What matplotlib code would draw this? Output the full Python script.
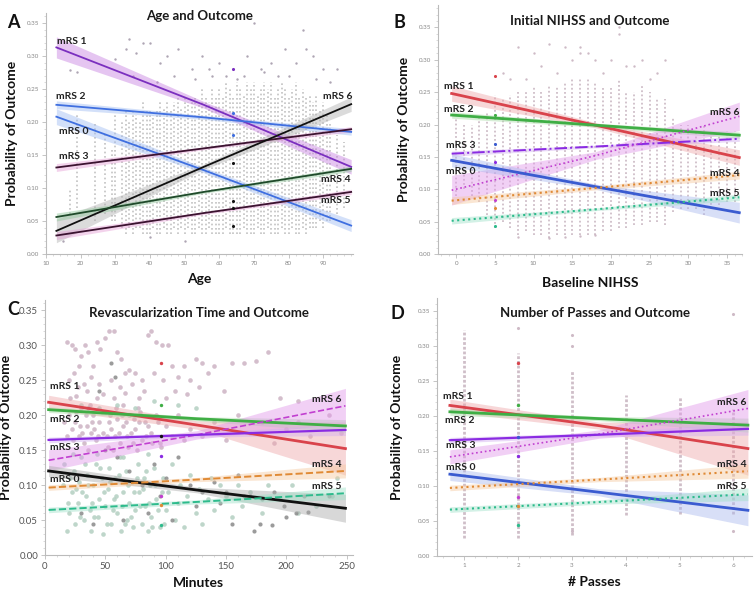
import numpy as np
import matplotlib
matplotlib.use("Agg")
from matplotlib import pyplot as plt

# ---------------- data ----------------
labels = ["mRS 0", "mRS 1", "mRS 2", "mRS 3", "mRS 4", "mRS 5", "mRS 6"]

# Panel A: Age
a_x = [13, 55.5, 98]
a_mrs0 = [0.208, 0.127, 0.043]
a_mrs1 = [0.313, 0.226, 0.132]
a_mrs2 = [0.226, 0.207, 0.185]
a_mrs3 = [0.131, 0.160, 0.189]
a_mrs4 = [0.056, 0.094, 0.129]
a_mrs5 = [0.028, 0.062, 0.094]
a_mrs6 = [0.035, 0.132, 0.227]
a_ci0 = [0.012, 0.004, 0.009]
a_ci1 = [0.016, 0.005, 0.011]
a_ci2 = [0.006, 0.003, 0.005]
a_ci3 = [0.006, 0.002, 0.004]
a_ci4 = [0.006, 0.002, 0.004]
a_ci5 = [0.006, 0.002, 0.004]
a_ci6 = [0.018, 0.004, 0.011]

a_col_x = [17, 19, 24, 27, 29, 30, 32, 33, 34, 35, 36, 37, 38, 39, 40, 41, 42, 43, 44,
           45, 46, 47, 48, 49, 50, 51, 52, 53, 54, 55, 56, 57, 58, 59, 60, 61, 62, 63,
           64, 65, 66, 67, 68, 69, 70, 71, 72, 73, 74, 75, 76, 77, 78, 79, 80, 81, 82,
           83, 84, 85, 86, 87, 88, 89, 90, 91, 92, 94, 96]
a_col_lo = [0.06, 0.07, 0.05, 0.06, 0.05, 0.05, 0.04, 0.03, 0.04, 0.03, 0.04, 0.04, 0.03,
            0.03, 0.03, 0.04, 0.03, 0.03, 0.04, 0.03, 0.03, 0.04, 0.03, 0.04, 0.03, 0.04,
            0.03, 0.03, 0.04, 0.03, 0.03, 0.04, 0.03, 0.03, 0.03, 0.03, 0.04, 0.03, 0.03,
            0.03, 0.03, 0.04, 0.03, 0.03, 0.03, 0.04, 0.03, 0.03, 0.04, 0.03, 0.03, 0.03,
            0.04, 0.03, 0.03, 0.04, 0.03, 0.03, 0.04, 0.03, 0.04, 0.04, 0.04, 0.05, 0.04,
            0.05, 0.05, 0.06, 0.07]
a_col_hi = [0.10, 0.21, 0.20, 0.18, 0.16, 0.21, 0.20, 0.22, 0.20, 0.22, 0.21, 0.20, 0.23,
            0.22, 0.22, 0.21, 0.22, 0.23, 0.22, 0.23, 0.22, 0.23, 0.24, 0.22, 0.24, 0.23,
            0.23, 0.24, 0.23, 0.25, 0.24, 0.23, 0.25, 0.24, 0.25, 0.24, 0.26, 0.25, 0.24,
            0.26, 0.25, 0.24, 0.26, 0.25, 0.26, 0.24, 0.25, 0.26, 0.25, 0.26, 0.24, 0.25,
            0.26, 0.25, 0.24, 0.25, 0.26, 0.24, 0.25, 0.24, 0.24, 0.23, 0.24, 0.22, 0.23,
            0.21, 0.20, 0.18, 0.17]
a_out = [(17, 0.278), (19, 0.275), (30, 0.295), (33, 0.31), (34, 0.325), (36, 0.305),
         (38, 0.32), (40, 0.32), (43, 0.29), (45, 0.30), (48, 0.31), (52, 0.28),
         (55, 0.30), (57, 0.28), (60, 0.29), (62, 0.27), (67, 0.27), (68, 0.30),
         (70, 0.35), (72, 0.28), (75, 0.29), (77, 0.27), (79, 0.31), (82, 0.29),
         (84, 0.34), (85, 0.31), (87, 0.30), (90, 0.28), (94, 0.28), (35, 0.27),
         (42, 0.26), (47, 0.27), (53, 0.265), (58, 0.27), (65, 0.265), (73, 0.275),
         (80, 0.27), (88, 0.265), (92, 0.26), (15, 0.02), (40, 0.025), (50, 0.02)]
a_hi_pts = [(64, 0.280, "#7b2fbf"), (64, 0.213, "#3f6fe0"), (64, 0.180, "#3f6fe0"),
            (64, 0.138, "#111111"), (64, 0.080, "#111111"), (64, 0.069, "#111111"),
            (64, 0.042, "#111111")]

# Panel B: Baseline NIHSS
b_x = [-0.6, 18, 36.6]
b_mrs0 = [0.1447, 0.104, 0.0638]
b_mrs1 = [0.248, 0.199, 0.149]
b_mrs2 = [0.2147, 0.199, 0.1836]
b_mrs3 = [0.155, 0.166, 0.178]
b_mrs4 = [0.0824, 0.102, 0.1218]
b_mrs5 = [0.0513, 0.069, 0.0876]
b_mrs6 = [0.0985, 0.152, 0.2127]
b_ci0 = [0.010, 0.004, 0.016]
b_ci1 = [0.012, 0.004, 0.012]
b_ci2 = [0.005, 0.003, 0.005]
b_ci3 = [0.004, 0.002, 0.004]
b_ci4 = [0.006, 0.003, 0.006]
b_ci5 = [0.005, 0.002, 0.005]
b_ci6 = [0.023, 0.006, 0.022]

b_col_x = list(range(0, 37))
b_col_lo = [0.09, 0.10, 0.09, 0.08, 0.06, 0.04, 0.05, 0.04, 0.03, 0.035, 0.03, 0.03,
            0.025, 0.03, 0.03, 0.03, 0.03, 0.03, 0.03, 0.035, 0.035, 0.04, 0.04, 0.045,
            0.045, 0.05, 0.05, 0.045, 0.065, 0.07, 0.07, 0.07, 0.06, 0.07, 0.075, 0.08, 0.08]
b_col_hi = [0.21, 0.20, 0.20, 0.21, 0.22, 0.245, 0.24, 0.245, 0.25, 0.25, 0.26, 0.25,
            0.26, 0.26, 0.265, 0.27, 0.27, 0.27, 0.265, 0.26, 0.26, 0.27, 0.25, 0.25,
            0.26, 0.25, 0.24, 0.24, 0.21, 0.20, 0.20, 0.19, 0.20, 0.19, 0.19, 0.19, 0.19]
b_out = [(8, 0.32), (10, 0.31), (11, 0.29), (12, 0.325), (13, 0.28), (14, 0.32),
         (15, 0.30), (16, 0.32), (16, 0.31), (17, 0.31), (18, 0.30), (19, 0.28),
         (20, 0.30), (21, 0.35), (21, 0.34), (22, 0.29), (23, 0.29), (24, 0.30),
         (25, 0.27), (26, 0.28), (27, 0.30), (6, 0.28), (7, 0.27), (9, 0.27),
         (8, 0.027), (12, 0.024), (14, 0.026), (16, 0.028), (18, 0.03)]
b_hi_pts = [(5, 0.275, "#d9434b"), (5, 0.215, "#3fae45"), (5, 0.170, "#3a5bd0"),
            (5, 0.142, "#8a2be2"), (5, 0.084, "#c13fd0"), (5, 0.071, "#e08a35"),
            (5, 0.043, "#2dbb8c")]

# Panel C: Revascularization time (minutes)
c_x = [3, 126, 249]
c_mrs0 = [0.1203, 0.093, 0.0669]
c_mrs1 = [0.2186, 0.186, 0.1523]
c_mrs2 = [0.208, 0.195, 0.1847]
c_mrs3 = [0.1647, 0.172, 0.179]
c_mrs4 = [0.0965, 0.108, 0.1203]
c_mrs5 = [0.0645, 0.076, 0.0884]
c_mrs6 = [0.1356, 0.172, 0.2135]
c_ci0 = [0.008, 0.004, 0.020]
c_ci1 = [0.010, 0.006, 0.038]
c_ci2 = [0.004, 0.003, 0.009]
c_ci3 = [0.004, 0.003, 0.008]
c_ci4 = [0.004, 0.003, 0.010]
c_ci5 = [0.004, 0.003, 0.009]
c_ci6 = [0.015, 0.006, 0.025]

c_pink = [(18, 0.305), (22, 0.30), (25, 0.295), (28, 0.27), (30, 0.285), (33, 0.30),
          (36, 0.29), (40, 0.27), (43, 0.305), (46, 0.295), (50, 0.31), (53, 0.32),
          (57, 0.32), (60, 0.29), (63, 0.28), (66, 0.26), (70, 0.265), (75, 0.26),
          (80, 0.25), (85, 0.315), (88, 0.32), (92, 0.305), (97, 0.30), (102, 0.30),
          (105, 0.27), (110, 0.255), (115, 0.27), (120, 0.25), (125, 0.28), (130, 0.275),
          (135, 0.26), (140, 0.27), (148, 0.235), (155, 0.275), (165, 0.275), (175, 0.278),
          (185, 0.29), (195, 0.225), (210, 0.22), (20, 0.25), (24, 0.26), (32, 0.245),
          (38, 0.255), (45, 0.245), (55, 0.25), (62, 0.24), (72, 0.245), (82, 0.235),
          (90, 0.26), (98, 0.25), (108, 0.235), (118, 0.23), (128, 0.24), (26, 0.228),
          (48, 0.23), (66, 0.232), (78, 0.225), (100, 0.225),
          (20, 0.20), (22, 0.18), (25, 0.19), (28, 0.17), (30, 0.21), (32, 0.16),
          (35, 0.185), (38, 0.175), (40, 0.20), (42, 0.165), (45, 0.19), (48, 0.175),
          (50, 0.205), (52, 0.155), (55, 0.18), (58, 0.17), (60, 0.195), (62, 0.16),
          (65, 0.185), (68, 0.17), (70, 0.20), (73, 0.16), (75, 0.18), (78, 0.19),
          (80, 0.165), (85, 0.185), (88, 0.175), (92, 0.20), (95, 0.16), (100, 0.185),
          (105, 0.17), (110, 0.20), (115, 0.165), (120, 0.18), (130, 0.17), (140, 0.19),
          (150, 0.165), (160, 0.20), (170, 0.175), (180, 0.19), (190, 0.16), (200, 0.18),
          (210, 0.19), (220, 0.17), (235, 0.20), (245, 0.175), (18, 0.17), (26, 0.205),
          (34, 0.20), (44, 0.17), (54, 0.20), (64, 0.20), (74, 0.195), (84, 0.17),
          (94, 0.19), (16, 0.19), (36, 0.15), (56, 0.15), (76, 0.15), (96, 0.155),
          (21, 0.225), (29, 0.185), (37, 0.215), (41, 0.18), (47, 0.205), (51, 0.17),
          (59, 0.21), (67, 0.19), (71, 0.175), (79, 0.205), (83, 0.19), (89, 0.16),
          (23, 0.165), (31, 0.175), (39, 0.19), (53, 0.19), (61, 0.175), (69, 0.155),
          (27, 0.24), (35, 0.235), (43, 0.225), (57, 0.225), (65, 0.215), (77, 0.21)]
c_mint = [(18, 0.035), (20, 0.06), (22, 0.09), (24, 0.12), (25, 0.045), (27, 0.075),
          (28, 0.105), (30, 0.14), (32, 0.05), (34, 0.085), (35, 0.115), (37, 0.065),
          (38, 0.035), (40, 0.10), (42, 0.13), (44, 0.055), (45, 0.08), (47, 0.11),
          (48, 0.03), (50, 0.07), (52, 0.095), (53, 0.125), (55, 0.045), (57, 0.08),
          (58, 0.11), (60, 0.06), (62, 0.14), (63, 0.035), (65, 0.09), (67, 0.12),
          (68, 0.05), (70, 0.075), (72, 0.105), (73, 0.04), (75, 0.065), (77, 0.13),
          (78, 0.09), (80, 0.045), (82, 0.11), (83, 0.07), (85, 0.035), (87, 0.10),
          (88, 0.055), (90, 0.125), (92, 0.08), (95, 0.04), (98, 0.11), (100, 0.065),
          (102, 0.09), (105, 0.13), (108, 0.05), (110, 0.075), (112, 0.10), (115, 0.04),
          (118, 0.085), (120, 0.115), (125, 0.06), (128, 0.095), (130, 0.045), (135, 0.08),
          (138, 0.11), (140, 0.065), (145, 0.10), (150, 0.085), (155, 0.055), (160, 0.10),
          (163, 0.07), (170, 0.09), (180, 0.06), (185, 0.10), (195, 0.08), (205, 0.10),
          (210, 0.06), (225, 0.07), (238, 0.085), (242, 0.11), (15, 0.10), (16, 0.13),
          (23, 0.145), (33, 0.13), (43, 0.145), (65, 0.14), (85, 0.145), (30, 0.215),
          (45, 0.21), (60, 0.215), (75, 0.21), (90, 0.22), (110, 0.215), (125, 0.21),
          (19, 0.075), (21, 0.11), (26, 0.095), (29, 0.055), (31, 0.09), (36, 0.10),
          (39, 0.075), (41, 0.055), (46, 0.125), (49, 0.09), (51, 0.045), (54, 0.105),
          (56, 0.065), (59, 0.085), (61, 0.115), (64, 0.07), (66, 0.045), (69, 0.1),
          (71, 0.055), (74, 0.09), (76, 0.11), (79, 0.07), (81, 0.095), (84, 0.12),
          (86, 0.075), (89, 0.04), (91, 0.1), (94, 0.065), (97, 0.09), (99, 0.045)]
c_dark = [(45, 0.235), (55, 0.275), (58, 0.255), (36, 0.21), (50, 0.15), (60, 0.14),
          (70, 0.12), (80, 0.10), (90, 0.13), (100, 0.11), (110, 0.14), (120, 0.10),
          (130, 0.09), (145, 0.075), (155, 0.045), (165, 0.085), (173, 0.035), (178, 0.045),
          (188, 0.043), (198, 0.07), (208, 0.06), (218, 0.062), (235, 0.085), (40, 0.045),
          (30, 0.06), (65, 0.05), (85, 0.06), (95, 0.085), (105, 0.05), (125, 0.07),
          (140, 0.105), (150, 0.09), (160, 0.115), (170, 0.085), (180, 0.08), (190, 0.09),
          (200, 0.055), (215, 0.085)]
c_hi_pts = [(96, 0.275, "#d9434b"), (96, 0.215, "#3fae45"), (96, 0.170, "#111111"),
            (96, 0.142, "#8a2be2"), (96, 0.084, "#c13fd0"), (96, 0.071, "#e08a35"),
            (96, 0.043, "#2dbb8c")]

# Panel D: number of passes
d_x = [0.73, 3.5, 6.27]
d_mrs0 = [0.1167, 0.091, 0.0652]
d_mrs1 = [0.2148, 0.186, 0.1533]
d_mrs2 = [0.2057, 0.196, 0.1867]
d_mrs3 = [0.1652, 0.173, 0.1814]
d_mrs4 = [0.0971, 0.109, 0.121]
d_mrs5 = [0.0662, 0.077, 0.0881]
d_mrs6 = [0.1414, 0.174, 0.2105]
d_ci0 = [0.009, 0.005, 0.022]
d_ci1 = [0.009, 0.005, 0.038]
d_ci2 = [0.005, 0.003, 0.010]
d_ci3 = [0.004, 0.003, 0.009]
d_ci4 = [0.004, 0.003, 0.010]
d_ci5 = [0.004, 0.003, 0.009]
d_ci6 = [0.010, 0.006, 0.027]

d_col_x = [1, 2, 3, 4, 5, 6]
d_col_lo = [0.025, 0.025, 0.03, 0.058, 0.06, 0.06]
d_col_hi = [0.322, 0.29, 0.265, 0.23, 0.228, 0.21]
d_out = [(2, 0.325), (3, 0.30), (3, 0.315), (6, 0.345), (6, 0.035), (3, 0.035)]
d_hi_pts = [(2, 0.275, "#d9434b"), (2, 0.215, "#3fae45"), (2, 0.170, "#3a5bd0"),
            (2, 0.142, "#8a2be2"), (2, 0.084, "#c13fd0"), (2, 0.071, "#e08a35"),
            (2, 0.044, "#2dbb8c")]

# ---------------- drawing ----------------
plt.rcParams['font.family'] = ['Lato', 'DejaVu Sans']

fig = plt.figure(figsize=(7.56, 5.89), dpi=100)
axA = fig.add_axes([0.0608, 0.5688, 0.406, 0.409])
axB = fig.add_axes([0.579, 0.5688, 0.403, 0.423])
axC = fig.add_axes([0.0595, 0.0577, 0.407, 0.433])
axD = fig.add_axes([0.578, 0.056, 0.417, 0.438])


def style_axes(ax, xlim, ylim, xticks, tick_size, tick_color):
    ax.set_xlim(*xlim)
    ax.set_ylim(*ylim)
    ax.set_xticks(xticks)
    ax.set_yticks(np.arange(0, 0.351, 0.05))
    ax.set_yticklabels(["%.2f" % v for v in np.arange(0, 0.351, 0.05)])
    for s in ['top', 'right']:
        ax.spines[s].set_visible(False)
    for s in ['left', 'bottom']:
        ax.spines[s].set_color('#bbbbbb')
        ax.spines[s].set_linewidth(0.8)
    ax.tick_params(labelsize=tick_size, colors='#bbbbbb', labelcolor=tick_color,
                   length=3, width=0.6, pad=2)
    ax.minorticks_on()
    ax.tick_params(which='minor', length=1.5, width=0.5, colors='#cccccc')


def fit(ax, x, y, ci, color, band, ls='-', lw=1.3, band_alpha=0.45):
    y = np.array(y)
    ci = np.array(ci)
    ax.fill_between(x, y - ci, y + ci, color=band, alpha=band_alpha, lw=0, zorder=3)
    ax.plot(x, y, color=color, ls=ls, lw=lw, zorder=4)


def pts(lst):
    arr = np.array(lst)
    return arr[:, 0], arr[:, 1]


lab_kw = dict(fontsize=7.5, fontweight='bold', color='#222222', zorder=6)
title_kw = dict(fontsize=9.5, fontweight='bold', color='#1a1a1a', ha='center', va='center')
axlab_kw = dict(fontsize=10, fontweight='bold', color='#111111')

# ---- A ----
ax = axA
style_axes(ax, (10, 98.5), (0, 0.365), np.arange(10, 91, 10), 4.5, '#888888')
ax.vlines(a_col_x, a_col_lo, a_col_hi, colors='#9a9a9a', linestyles=(0, (1, 1.6)),
          lw=1.2, alpha=0.6, zorder=1)
ox, oy = pts(a_out)
ax.scatter(ox, oy, s=3, color='#9a8fa0', alpha=0.8, lw=0, zorder=2)
for x, y, c in a_hi_pts:
    ax.scatter([x], [y], s=5, color=c, lw=0, zorder=5)
fit(ax, a_x, a_mrs1, a_ci1, '#7b2fbf', '#c77fe0')
fit(ax, a_x, a_mrs2, a_ci2, '#3f6fe0', '#9fbcf2')
fit(ax, a_x, a_mrs0, a_ci0, '#3f6fe0', '#9fbcf2')
fit(ax, a_x, a_mrs3, a_ci3, '#3b1330', '#e69fd6')
fit(ax, a_x, a_mrs6, a_ci6, '#111111', '#b0b0b0')
fit(ax, a_x, a_mrs4, a_ci4, '#1f4a2a', '#8fc79a')
fit(ax, a_x, a_mrs5, a_ci5, '#3b1330', '#e69fd6')
ax.text(13.3, 0.322, labels[1], ha='left', va='center', **lab_kw)
ax.text(13.0, 0.238, labels[2], ha='left', va='center', **lab_kw)
ax.text(13.9, 0.186, labels[0], ha='left', va='center', **lab_kw)
ax.text(13.9, 0.148, labels[3], ha='left', va='center', **lab_kw)
ax.text(98.3, 0.238, labels[6], ha='right', va='center', **lab_kw)
ax.text(97.7, 0.1136, labels[4], ha='right', va='center', **lab_kw)
ax.text(97.7, 0.081, labels[5], ha='right', va='center', **lab_kw)
ax.text(0.5, 0.987, "Age and Outcome", transform=ax.transAxes, **title_kw)
ax.set_xlabel("Age", **axlab_kw)
ax.set_ylabel("Probability of Outcome", **axlab_kw)
ax.xaxis.set_label_coords(0.5, -0.079)
ax.yaxis.set_label_coords(-0.091, 0.5)

# ---- B ----
ax = axB
style_axes(ax, (-2.4, 37), (0, 0.385), np.arange(0, 36, 5), 4.5, '#888888')
ax.vlines(b_col_x, b_col_lo, b_col_hi, colors='#c7b3bf', linestyles=(0, (1, 1.3)),
          lw=1.3, alpha=0.85, zorder=1)
ox, oy = pts(b_out)
ax.scatter(ox, oy, s=3, color='#c9b3c0', alpha=0.9, lw=0, zorder=2)
for x, y, c in b_hi_pts:
    ax.scatter([x], [y], s=5, color=c, lw=0, zorder=5)
fit(ax, b_x, b_mrs1, b_ci1, '#d9434b', '#eea7aa', lw=2)
fit(ax, b_x, b_mrs2, b_ci2, '#3fae45', '#a8dba5', lw=2)
fit(ax, b_x, b_mrs3, b_ci3, '#8a2be2', '#d2aef0', ls='-.', lw=1.4)
fit(ax, b_x, b_mrs6, b_ci6, '#c13fd0', '#e197ea', ls=':', lw=1.2)
fit(ax, b_x, b_mrs0, b_ci0, '#3a5bd0', '#a9b8ee', lw=2)
fit(ax, b_x, b_mrs4, b_ci4, '#e08a35', '#f5c99f', ls=':', lw=1.5)
fit(ax, b_x, b_mrs5, b_ci5, '#2dbb8c', '#9fe0c8', ls=':', lw=1.5)
ax.text(-1.55, 0.259, labels[1], ha='left', va='center', **lab_kw)
ax.text(-1.55, 0.224, labels[2], ha='left', va='center', **lab_kw)
ax.text(-1.3, 0.167, labels[3], ha='left', va='center', **lab_kw)
ax.text(-1.3, 0.128, labels[0], ha='left', va='center', **lab_kw)
ax.text(36.6, 0.219, labels[6], ha='right', va='center', **lab_kw)
ax.text(36.6, 0.1244, labels[4], ha='right', va='center', **lab_kw)
ax.text(36.6, 0.0933, labels[5], ha='right', va='center', **lab_kw)
ax.text(0.5, 0.936, "Initial NIHSS and Outcome", transform=ax.transAxes, **title_kw)
ax.set_xlabel("Baseline NIHSS", **axlab_kw)
ax.set_ylabel("Probability of Outcome", **axlab_kw)
ax.xaxis.set_label_coords(0.5, -0.092)
ax.yaxis.set_label_coords(-0.092, 0.5)

# ---- C ----
ax = axC
style_axes(ax, (0, 255), (0, 0.365), np.arange(0, 251, 50), 7, '#555555')
ox, oy = pts(c_pink)
ax.scatter(ox, oy, s=11, color='#cdb3c4', alpha=0.85, lw=0, zorder=1)
ox, oy = pts(c_mint)
ax.scatter(ox, oy, s=11, color='#b3cfc1', alpha=0.85, lw=0, zorder=1)
ox, oy = pts(c_dark)
ax.scatter(ox, oy, s=9, color='#8a8a8a', alpha=0.85, lw=0, zorder=1)
for x, y, c in c_hi_pts:
    ax.scatter([x], [y], s=6, color=c, lw=0, zorder=5)
fit(ax, c_x, c_mrs1, c_ci1, '#d9434b', '#eea7aa', lw=2)
fit(ax, c_x, c_mrs2, c_ci2, '#3fae45', '#a8dba5', lw=2)
fit(ax, c_x, c_mrs6, c_ci6, '#c13fd0', '#e197ea', ls='--', lw=1.2)
fit(ax, c_x, c_mrs3, c_ci3, '#8a2be2', '#d2aef0', lw=1.6)
fit(ax, c_x, c_mrs0, c_ci0, '#111111', '#a9a9a9', lw=2)
fit(ax, c_x, c_mrs4, c_ci4, '#e08a35', '#f5c99f', ls='--', lw=1.4)
fit(ax, c_x, c_mrs5, c_ci5, '#2dbb8c', '#9fe0c8', ls='--', lw=1.4)
ax.text(4.3, 0.241, labels[1], ha='left', va='center', **lab_kw)
ax.text(4.3, 0.194, labels[2], ha='left', va='center', **lab_kw)
ax.text(4.3, 0.154, labels[3], ha='left', va='center', **lab_kw)
ax.text(4.3, 0.108, labels[0], ha='left', va='center', **lab_kw)
ax.text(246, 0.222, labels[6], ha='right', va='center', **lab_kw)
ax.text(246, 0.129, labels[4], ha='right', va='center', **lab_kw)
ax.text(246, 0.098, labels[5], ha='right', va='center', **lab_kw)
ax.text(0.5, 0.949, "Revascularization Time and Outcome", transform=ax.transAxes, **title_kw)
ax.set_xlabel("Minutes", **axlab_kw)
ax.set_ylabel("Probability of Outcome", **axlab_kw)
ax.xaxis.set_label_coords(0.5, -0.085)
ax.yaxis.set_label_coords(-0.108, 0.5)

# ---- D ----
ax = axD
style_axes(ax, (0.49, 6.35), (0, 0.368), np.arange(1, 7), 4.5, '#888888')
ax.vlines(d_col_x, d_col_lo, d_col_hi, colors='#c7b3bf', linestyles=(0, (1, 0.7)),
          lw=2.0, alpha=0.85, zorder=1)
ox, oy = pts(d_out)
ax.scatter(ox, oy, s=5, color='#c9b3c0', alpha=0.9, lw=0, zorder=2)
for x, y, c in d_hi_pts:
    ax.scatter([x], [y], s=6, color=c, lw=0, zorder=5)
fit(ax, d_x, d_mrs1, d_ci1, '#d9434b', '#eea7aa', lw=2)
fit(ax, d_x, d_mrs2, d_ci2, '#3fae45', '#a8dba5', lw=2)
fit(ax, d_x, d_mrs6, d_ci6, '#c13fd0', '#e197ea', ls=':', lw=1.2)
fit(ax, d_x, d_mrs3, d_ci3, '#8a2be2', '#d2aef0', lw=1.6)
fit(ax, d_x, d_mrs0, d_ci0, '#3a5bd0', '#a9b8ee', lw=2)
fit(ax, d_x, d_mrs4, d_ci4, '#e08a35', '#f5c99f', ls=':', lw=1.5)
fit(ax, d_x, d_mrs5, d_ci5, '#2dbb8c', '#9fe0c8', ls=':', lw=1.5)
ax.text(0.61, 0.228, labels[1], ha='left', va='center', **lab_kw)
ax.text(0.64, 0.193, labels[2], ha='left', va='center', **lab_kw)
ax.text(0.66, 0.157, labels[3], ha='left', va='center', **lab_kw)
ax.text(0.66, 0.1257, labels[0], ha='left', va='center', **lab_kw)
ax.text(6.25, 0.2186, labels[6], ha='right', va='center', **lab_kw)
ax.text(6.25, 0.1305, labels[4], ha='right', va='center', **lab_kw)
ax.text(6.25, 0.0986, labels[5], ha='right', va='center', **lab_kw)
ax.text(0.5, 0.942, "Number of Passes and Outcome", transform=ax.transAxes, **title_kw)
ax.set_xlabel("# Passes", **axlab_kw)
ax.set_ylabel("Probability of Outcome", **axlab_kw)
ax.xaxis.set_label_coords(0.5, -0.078)
ax.yaxis.set_label_coords(-0.108, 0.5)

# panel letters
for (x, y, t) in [(0.017, 0.961, "A"), (0.529, 0.961, "B"),
                  (0.017, 0.474, "C"), (0.526, 0.467, "D")]:
    fig.text(x, y, t, fontsize=13, fontweight='bold', color='#111111', va='center', ha='center')

fig.savefig("out.png", dpi=100)
